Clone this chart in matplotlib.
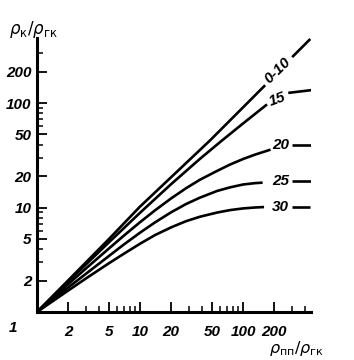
import matplotlib
matplotlib.use('Agg')
import matplotlib.pyplot as plt
from matplotlib.ticker import FixedLocator, NullFormatter, FixedFormatter

# curves: p_pp/p_gk vs p_k/p_gk, one per parameter value
x_0_10 = [1, 2, 5, 10, 48, 164]
y_0_10 = [1, 2.0, 5.0, 10.2, 44, 148]
x_0_10_end = [300, 450]
y_0_10_end = [275, 410]

x_15 = [1, 2, 5, 10, 20, 38, 62, 100, 171]
y_15 = [1, 1.95, 4.65, 8.9, 16.7, 29.1, 43.5, 63.7, 97]
x_15_end = [275, 465]
y_15_end = [125, 133]

x_20 = [1, 2, 3, 5, 7, 10, 14, 20, 28, 38, 56, 75, 100, 130, 185]
y_20 = [1, 1.84, 2.62, 4.06, 5.4, 7.23, 9.4, 12.2, 15.3, 18.4, 22.4, 25.8, 29.1, 32.0, 35.8]
x_20_end = [300, 465]
y_20_end = [39.6, 39.6]

x_25 = [1, 2, 3, 5, 7, 10, 14, 20, 28, 38, 56, 75, 100, 130, 155]
y_25 = [1, 1.71, 2.33, 3.44, 4.44, 5.74, 7.21, 8.99, 10.8, 12.4, 14.4, 15.6, 16.6, 17.1, 17.3]
x_25_end = [300, 465]
y_25_end = [17.9, 17.9]

x_30 = [1, 2, 3, 5, 7, 10, 14, 20, 28, 38, 56, 75, 100, 130, 160]
y_30 = [1, 1.6, 2.1, 2.93, 3.62, 4.5, 5.45, 6.45, 7.4, 8.15, 8.95, 9.45, 9.8, 10.0, 10.1]
x_30_end = [300, 450]
y_30_end = [10.1, 10.1]

curve_labels = ['0-10', '15', '20', '25', '30']
label_x = [218, 214, 230, 232, 232]
label_y = [205, 108, 39.6, 17.9, 10.1]
label_rot = [44, 20, 0, 0, 0]

ticks_major = [2, 5, 10, 20, 50, 100, 200]
x_minor = [3, 4, 6, 7, 8, 9, 30, 40, 60, 70, 80, 90, 300, 400]
y_minor = [3, 4, 6, 7, 8, 9, 30, 40, 60, 70, 80, 90, 300]

fig = plt.figure(figsize=(3.54, 3.6), dpi=100)
ax = fig.add_axes([37/354, 48/360, 274/354, 274/360])

lw = 1.9
for xs, ys in [(x_0_10, y_0_10), (x_0_10_end, y_0_10_end),
               (x_15, y_15), (x_15_end, y_15_end),
               (x_20, y_20), (x_20_end, y_20_end),
               (x_25, y_25), (x_25_end, y_25_end),
               (x_30, y_30), (x_30_end, y_30_end)]:
    ax.plot(xs, ys, color='black', lw=lw, solid_capstyle='butt', solid_joinstyle='round')

ax.set_xscale('log')
ax.set_yscale('log')
ax.set_xlim(1, 457)
ax.set_ylim(1, 419)

tfont = dict(fontsize=11, style='italic', weight='bold', family='Liberation Sans')
for lab, lx, ly, r in zip(curve_labels, label_x, label_y, label_rot):
    ax.text(lx, ly, lab, ha='center', va='center', rotation=r, **tfont)

ax.spines['top'].set_visible(False)
ax.spines['right'].set_visible(False)
ax.spines['left'].set_linewidth(2.2)
ax.spines['bottom'].set_linewidth(2.2)

for axis, minor in [(ax.xaxis, x_minor), (ax.yaxis, y_minor)]:
    axis.set_major_locator(FixedLocator(ticks_major))
    axis.set_major_formatter(FixedFormatter([str(t) for t in ticks_major]))
    axis.set_minor_locator(FixedLocator(minor))
    axis.set_minor_formatter(NullFormatter())

ax.tick_params(which='major', direction='in', length=7, width=1.3, pad=4)
ax.tick_params(which='minor', direction='in', length=4, width=1.1)
ax.tick_params(axis='x', which='major', pad=9)
for lbl in ax.get_xticklabels() + ax.get_yticklabels():
    lbl.set_fontsize(11)
    lbl.set_fontstyle('italic')
    lbl.set_fontweight('bold')
    lbl.set_family('Liberation Sans')

fig.text(13/354, 1 - 328/360, '1', ha='center', va='center', **tfont)
fig.text(33/354, 1 - 30/360, r'$\rho_\mathregular{к}/\rho_\mathregular{гк}$',
         ha='center', va='center', fontsize=12)
fig.text(297/354, 1 - 348/360, r'$\rho_\mathregular{пп}/\rho_\mathregular{гк}$',
         ha='center', va='center', fontsize=11.5)

fig.savefig('out.png', dpi=100)
